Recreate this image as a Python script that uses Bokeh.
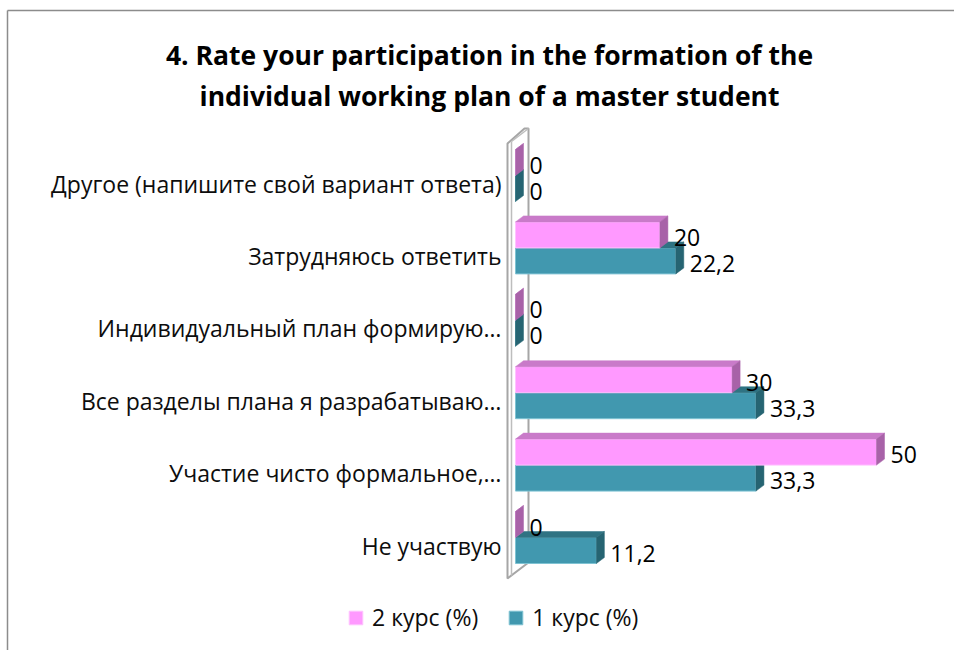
from bokeh.plotting import figure
from bokeh.models import Range1d, Label, Legend, LegendItem, ColumnDataSource
from bokeh.embed import file_html
from bokeh.resources import INLINE
from bokeh.core.properties import value

# ---------------- data ----------------
categories = [
    "Другое (напишите свой вариант ответа)",
    "Затрудняюсь ответить",
    "Индивидуальный план формирую…",
    "Все разделы плана я разрабатываю…",
    "Участие чисто формальное,…",
    "Не участвую",
]
course2 = [0, 20, 0, 30, 50, 0]           # 2 курс (%)
course1 = [0, 22.2, 0, 33.3, 33.3, 11.2]  # 1 курс (%)
series_names = ["2 курс (%)", "1 курс (%)"]
title_text = "4. Rate your participation in the formation of the\nindividual working plan of a master student"

# ---------------- layout helpers ----------------
PX_X = 7.22    # pixels per percent
PX_Y = 72.4    # pixels per category step
X0_PAGE = 515  # page x of value 0
Y0_PAGE = 545  # page y of bottom category

def X(px):
    return (px - X0_PAGE) / PX_X

def Y(py):
    return (Y0_PAGE - py) / PX_Y

FONT = "Open Sans"
W, H = 954, 650
p = figure(width=W, height=H, output_backend="svg", toolbar_location=None,
           x_range=Range1d(X(0), X(W)), y_range=Range1d(Y(H), Y(0)),
           min_border=0, min_border_left=0, min_border_right=0,
           min_border_top=0, min_border_bottom=0)
p.background_fill_color = "white"
p.border_fill_color = "white"
p.outline_line_color = None
p.grid.visible = False
p.axis.visible = False

n = len(categories)
ypos = [n - 1 - i for i in range(n)]  # top category gets highest y

# chart border (left and top edges visible)
p.line([X(7), X(7)], [Y(H + 5), Y(10)], line_color="#8C8C8C", line_width=1.5)
p.line([X(7), X(W + 5)], [Y(10), Y(10)], line_color="#8C8C8C", line_width=1.5)

# ---------------- category labels ----------------
csrc = ColumnDataSource(dict(x=[X(501)] * n, y=ypos, t=categories))
p.text(x="x", y="y", text="t", source=csrc, text_font=value(FONT),
       text_font_size="23px", text_align="right", text_baseline="middle",
       text_color="#0D0D0D")

# ---------------- back wall ----------------
wall_x = [X(507), X(507), X(524), X(528), X(528)]
wall_y = [Y(578), Y(143), Y(128), Y(128), Y(562)]
p.patch(wall_x, wall_y, fill_color="white", line_color="#A6A6A6", line_width=2)
p.line([X(511), X(511)], [Y(575), Y(141)], line_color="#BDBDBD", line_width=1.5)
p.line([X(511), X(528)], [Y(141), Y(128)], line_color="#BDBDBD", line_width=1.5)

# ---------------- bars ----------------
OFF = 8 / PX_Y
BH = 26 / PX_Y
DX = 8 / PX_X
DY = 6 / PX_Y
PAD = 6 / PX_X

styles = [
    dict(front="#FF99FF", top="#C97AC9", side="#A862A8", edge="#FFC2FF"),
    dict(front="#4198AF", top="#2F7383", side="#266472", edge="#7FC3D3"),
]

def fmt(v):
    return ("%g" % v).replace(".", ",")

renderers = {}
# draw teal (1 курс, lower) first, then pink (2 курс, upper)
for sidx, vals in [(1, course1), (0, course2)]:
    st = styles[sidx]
    bottoms, tops = [], []
    for i in range(n):
        b = ypos[i] + OFF
        if sidx == 0:
            bottoms.append(b); tops.append(b + BH)
        else:
            bottoms.append(b - BH); tops.append(b)
    src = ColumnDataSource(dict(
        y=[(bt + tp) / 2 for bt, tp in zip(bottoms, tops)],
        left=[0] * n, right=vals))
    r = p.hbar(y="y", left="left", right="right", height=BH, source=src,
               fill_color=st["front"], line_color=st["edge"], line_width=1)
    renderers[sidx] = r
    top_xs, top_ys, side_xs, side_ys = [], [], [], []
    for i in range(n):
        v = vals[i]
        bt, tp = bottoms[i], tops[i]
        top_xs.append([0, v, v + DX, DX])
        top_ys.append([tp, tp, tp + DY, tp + DY])
        side_xs.append([v, v, v + DX, v + DX])
        side_ys.append([bt, tp, tp + DY, bt + DY])
    p.patches(top_xs, top_ys, fill_color=st["top"], line_color=st["top"], line_width=0.5)
    p.patches(side_xs, side_ys, fill_color=st["side"], line_color=st["side"], line_width=0.5)
    lsrc = ColumnDataSource(dict(
        x=[v + DX + PAD for v in vals],
        y=[(bt + tp) / 2 - 2.5 / PX_Y for bt, tp in zip(bottoms, tops)],
        t=[fmt(v) for v in vals]))
    p.text(x="x", y="y", text="t", source=lsrc, text_font=value(FONT),
           text_font_size="23px", text_baseline="middle", text_align="left",
           text_color="#000000")

# ---------------- title ----------------
p.add_layout(Label(x=X(489), y=Y(75), text=title_text, text_align="center",
                   text_baseline="middle", text_font=FONT, text_font_size="26.5px",
                   text_font_style="bold", text_color="#000000", text_line_height=1.13))

# ---------------- legend ----------------
legend = Legend(items=[LegendItem(label=series_names[0], renderers=[renderers[0]]),
                       LegendItem(label=series_names[1], renderers=[renderers[1]])],
                orientation="horizontal", location=(347, H - 633),
                glyph_width=17, glyph_height=17, label_standoff=8, spacing=29,
                padding=0, margin=0, border_line_color=None, background_fill_alpha=0,
                label_text_font=FONT, label_text_font_size="23px", label_text_color="#0D0D0D")
p.add_layout(legend, "center")

open("out.html", "w").write(file_html(p, INLINE))
